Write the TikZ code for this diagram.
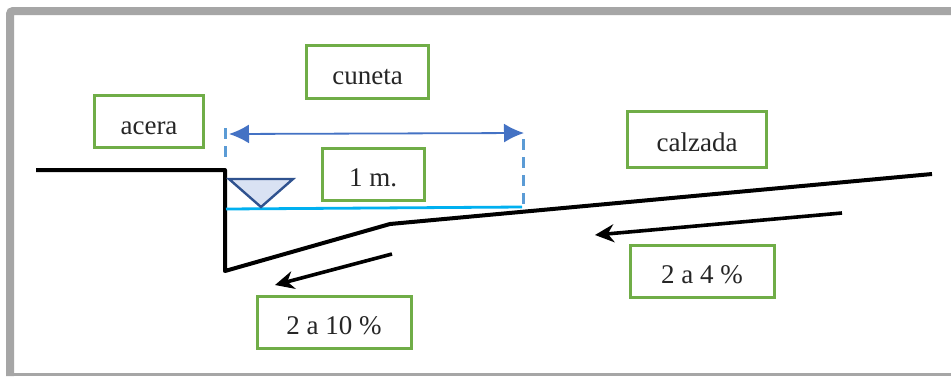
\documentclass[tikz,border=0pt]{standalone}
\usepackage{fontspec}
\setmainfont{Liberation Serif}
\usetikzlibrary{arrows.meta}
\definecolor{boxgreen}{RGB}{112,173,71}
\definecolor{frameg}{RGB}{166,166,166}
\definecolor{dimblue}{RGB}{68,114,196}
\definecolor{dashblue}{RGB}{91,155,213}
\definecolor{waterblue}{RGB}{0,176,240}
\definecolor{trifill}{RGB}{217,226,243}
\definecolor{triline}{RGB}{47,82,143}
\newcommand{\boxtext}[1]{\raisebox{-12.5pt}[0pt][0pt]{#1}}
\tikzset{
  labelbox/.style={draw=boxgreen,line width=3pt,fill=white,inner sep=0pt,font=\fontsize{27}{30}\selectfont,text=black!85,anchor=center},
  ground/.style={line width=4pt,black,line join=round},
  slopearrow/.style={line width=3.6pt,black,-{Stealth[length=19pt,width=18pt]}},
  dimline/.style={line width=1.8pt,dimblue,{Latex[length=20pt,width=19pt]}-{Latex[length=20pt,width=19pt]}},
  dashline/.style={line width=3pt,dashblue,dash pattern=on 11pt off 7pt},
  water/.style={line width=2.8pt,waterblue},
}
\begin{document}
\begin{tikzpicture}[x=1pt,y=-1pt]
\useasboundingbox (0,0) rectangle (951,376);
\fill[white] (0,0) rectangle (951,376);
\draw[frameg,line width=8pt,rounded corners=3pt] (951,11) -- (10,11) -- (10,376);
\fill[frameg] (6,373) rectangle (951,376);
% boxes
\node[labelbox,minimum width=122pt,minimum height=53pt] (cuneta) at (367.5,71.5) {\boxtext{cuneta}};
\node[labelbox,minimum width=109pt,minimum height=52pt] (acera) at (149,121.5) {\boxtext{acera}};
\node[labelbox,minimum width=139pt,minimum height=56pt] (calzada) at (697,139) {\boxtext{calzada}};
\node[labelbox,minimum width=102pt,minimum height=52pt] (onem) at (373,174) {\boxtext{1 m.}};
\node[labelbox,minimum width=144pt,minimum height=52pt] (twofour) at (702,271) {\boxtext{2 a 4 \%}};
\node[labelbox,minimum width=154pt,minimum height=52pt] (twoten) at (334,322) {\boxtext{2 a 10 \%}};
% profile
\coordinate (a1) at (36,170);
\coordinate (a2) at (225,170);
\coordinate (a3) at (225,271);
\coordinate (a4) at (390,224);
\coordinate (a5) at (932,174);
\draw[ground] (a1) -- (a2) -- (a3) -- (a4) -- (a5);
% water
\coordinate (w1) at (226,209);
\coordinate (w2) at (522,207);
\draw[water] (w1) -- (w2);
% water mark
\coordinate (t1) at (229,179);
\coordinate (t2) at (293,179);
\coordinate (t3) at (261,207);
\draw[triline,fill=trifill,line width=2.4pt,line join=miter] (t1) -- (t2) -- (t3) -- cycle;
% dimension
\coordinate (d1) at (229,134);
\coordinate (d2) at (524,133);
\draw[dimline] (d1) -- (d2);
\coordinate (e1) at (225,128);
\coordinate (e2) at (225,160);
\coordinate (e3) at (523,139);
\coordinate (e4) at (523,208);
\draw[dashline] (e1) -- (e2);
\draw[dashline] (e3) -- (e4);
% slope arrows
\coordinate (s1) at (392,254);
\coordinate (s2) at (275,285);
\draw[slopearrow] (s1) -- (s2);
\coordinate (r1) at (842,213);
\coordinate (r2) at (595,235);
\draw[slopearrow] (r1) -- (r2);
\end{tikzpicture}
\end{document}
